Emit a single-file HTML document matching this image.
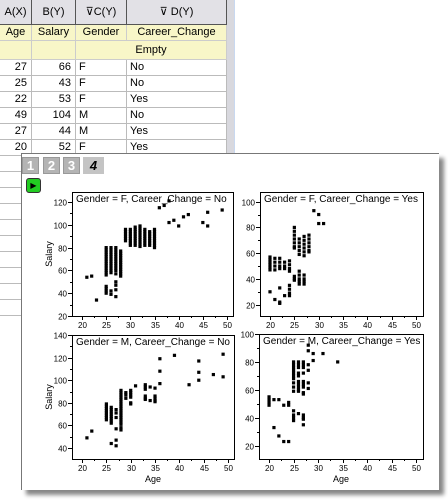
<!DOCTYPE html>
<html><head><meta charset="utf-8">
<style>
body{margin:0;width:448px;height:500px;position:relative;overflow:hidden;background:#fff;font-family:"Liberation Sans",sans-serif}
.c{position:absolute;box-sizing:border-box;font-size:11px;line-height:15px;white-space:nowrap}
.h{background:#e2e1e6;border-right:1px solid #555;border-bottom:1px solid #555;text-align:center;height:25px;line-height:24px}
.y{background:#f8f6c8;border-right:1px solid #ccc;border-bottom:1px solid #ccc;height:16px}
.d{border-right:1px solid #bbb;border-bottom:1px solid #bbb;height:16px;background:#fff}
.r{text-align:right;padding-right:4px}
.l{padding-left:3px}
.tab{position:absolute;top:157px;height:15px;width:15px;background:#b4b4b4;color:#fff;font-weight:bold;font-size:13px;text-align:center;line-height:15px;border:1px solid #999}
</style></head><body>
<div id="sheet"></div>
<div style="position:absolute;left:227px;top:0;width:7px;height:155px;background:#d8d8de;border-right:1px solid #c8d8f0"></div>
<div style="position:absolute;left:21px;top:153px;width:417px;height:336px;background:#fff;border-top:1px solid #777;border-left:1px solid #777;box-shadow:5px 5px 4px #888"></div>
<div class="tab" style="left:22px">1</div>
<div class="tab" style="left:43px">2</div>
<div class="tab" style="left:63px">3</div>
<div class="tab" style="left:83px;width:19px;background:#c4c4c4;color:#000;font-style:italic;border-color:#c4c4c4">4</div>
<div style="position:absolute;left:26px;top:178px;width:13px;height:13px;background:#2c2;border:1px solid #333;border-radius:3px;color:#000;font-size:8px;line-height:13px;text-align:center">▶</div>
<svg id="chart" width="448" height="500" style="position:absolute;left:0;top:0" font-family="Liberation Sans, sans-serif"></svg>
<script>
const colX=[0,32,76,127,227];
const hdr=['A(X)','B(Y)','⊽C(Y)','⊽     D(Y)'];
const lng=['Age','Salary','Gender','Career_Change'];
const rowsAge=['27','25','22','49','27','20'];
const rowsSal=['66','43','53','104','44','52'];
const rowsGen=['F','F','F','M','M','F'];
const rowsCC=['No','No','Yes','No','Yes','Yes'];
const sheet=document.getElementById('sheet');
function cell(cls,x,y,w,t,name){const e=document.createElement('div');e.className='c '+cls;e.style.left=x+'px';e.style.top=y+'px';e.style.width=w+'px';e.textContent=t;


sheet.appendChild(e);return e;}
for(let i=0;i<4;i++){const w=colX[i+1]-colX[i];
cell('h',colX[i],0,w,hdr[i],'column-header');
cell('y',colX[i],25,w,lng[i],'long-name-cell').style.textAlign='center';}
cell('y',0,41,32,'','comment-cell').style.height='19px';
cell('y',32,41,44,'','comment-cell').style.height='19px';
const em=cell('y',76,41,151,'Empty','comment-cell');em.style.height='19px';em.style.textAlign='center';em.style.lineHeight='18px';
for(let r=0;r<16;r++){const y=60+r*16;
const a=r<6?rowsAge[r]:'2';
const ce=cell('d r',0,y,32,a,'age-cell');
if(r>10)ce.style.color='#bbb';
if(r<6){cell('d r',32,y,44,rowsSal[r],'salary-cell');cell('d l',76,y,51,rowsGen[r],'gender-cell');cell('d l',127,y,100,rowsCC[r],'career-cell');}
else{cell('d',32,y,44,'','salary-cell');cell('d',76,y,51,'','gender-cell');cell('d',127,y,100,'','career-cell');}}

const fNoAge=[21,22,23,25,25,25,25,25,25,25,25,25,25,25,25,25,25,25,25,25,26,26,26,26,26,26,26,26,26,26,26,26,26,26,27,27,27,27,27,27,27,27,27,27,27,27,27,27,27,27,28,28,28,28,28,28,28,28,28,28,28,28,29,29,29,29,29,29,30,30,30,30,30,30,30,30,31,31,31,31,31,31,31,31,31,32,32,32,32,32,32,32,32,32,32,33,33,33,33,33,33,33,33,34,34,34,34,34,34,34,35,35,35,35,35,35,35,35,35,36,37,38,38,39,40,41,42,45,46,46,49];
const fNoSal=[54,55,34,80,78,76,74,72,70,68,66,64,62,60,58,56,46,44,42,40,80,78,76,74,72,70,68,66,64,62,60,58,42,39,80,78,76,74,72,70,68,66,64,62,60,57,50,47,43,37,77,75,73,71,69,67,65,63,61,59,57,55,96,94,92,90,88,86,96,94,92,90,88,86,84,82,98,96,94,92,90,88,86,84,82,99,97,95,93,91,89,87,85,83,81,96,94,92,90,88,86,84,82,94,92,90,88,86,84,82,96,94,92,90,88,86,84,82,80,115,117,121,102,104,99,107,109,102,111,99,113];
const fYesAge=[20,20,20,20,20,20,20,21,21,21,21,21,22,22,22,22,22,22,22,23,23,23,23,24,24,24,24,24,24,24,24,25,25,25,25,25,25,25,25,25,25,26,26,26,26,26,26,26,26,26,26,27,27,27,27,27,27,27,27,27,27,28,28,28,28,28,28,29,30,30,31];
const fYesSal=[57,55,53,51,49,47,30,56,53,50,47,24,56,53,50,48,33,21,22,53,50,48,27,54,51,48,46,35,32,29,27,80,77,74,71,68,65,64,42,40,39,71,68,65,62,59,46,43,40,38,36,73,70,67,64,61,58,43,40,38,36,74,71,68,65,62,61,93,90,83,83];
const mNoAge=[21,22,25,25,25,25,25,25,25,25,26,26,26,26,26,26,26,26,26,27,27,27,27,27,27,28,28,28,28,28,28,28,28,28,28,28,28,28,28,28,28,28,28,29,29,29,30,30,30,30,30,30,31,33,33,33,33,33,33,34,34,35,35,35,35,35,36,36,36,39,42,44,44,44,47,49,49];
const mNoSal=[49,55,79,77,75,73,71,69,67,65,76,74,72,70,68,66,64,62,44,74,71,67,57,47,42,91,89,87,85,83,81,79,77,75,73,71,69,67,65,63,61,58,56,89,87,84,91,89,87,85,80,79,95,96,94,92,86,84,83,94,82,93,86,84,82,81,119,108,97,122,96,117,107,100,105,123,103];
const mYesAge=[20,20,20,20,21,21,22,22,23,23,24,24,24,25,25,25,25,25,25,25,25,25,25,25,25,25,25,26,26,26,26,26,26,26,26,26,26,26,27,27,27,27,27,27,27,27,27,27,27,27,27,28,28,28,28,28,28,29,29,31,34];
const mYesSal=[55,53,51,49,53,33,53,27,49,23,51,49,23,80,78,76,74,72,70,68,65,62,59,45,42,40,38,80,78,76,72,70,66,64,62,60,59,43,80,78,76,72,66,64,62,58,57,42,40,39,35,92,88,78,74,65,61,86,81,86,80];
const xTicks=[20,25,30,35,40,45,50];
const yTicks1=[20,40,60,80,100,120];
const yTicks2=[20,40,60,80,100];
const yTicks3=[40,60,80,100,120,140];
const titles=['Gender = F, Career_Change = No','Gender = F, Career_Change = Yes','Gender = M, Career_Change = No','Gender = M, Career_Change = Yes'];

const panels=[
 {f:[72,192,233,316],xr:[17.93,51.24],yr:[20,128.8],yt:yTicks1,ax:fNoAge,ay:fNoSal,ylab:true,xlab:false},
 {f:[260,192,423,316],xr:[17.95,51.4],yr:[11.2,107.5],yt:yTicks2,ax:fYesAge,ay:fYesSal,ylab:false,xlab:false},
 {f:[72,335,234,459],xr:[17.93,51.24],yr:[30.3,140],yt:yTicks3,ax:mNoAge,ay:mNoSal,ylab:true,xlab:true},
 {f:[259,334,423,459],xr:[17.95,51.4],yr:[10.5,100],yt:yTicks2,ax:mYesAge,ay:mYesSal,ylab:false,xlab:true}
];
const NS='http://www.w3.org/2000/svg';
const svg=document.getElementById('chart');
function mk(tag,attrs,parent){const e=document.createElementNS(NS,tag);for(const k in attrs)e.setAttribute(k,attrs[k]);(parent||svg).appendChild(e);return e;}
panels.forEach((p,i)=>{
 const [L,T,R,B]=p.f;
 const g=mk('g',{});
 
 
 const sx=v=>L+(v-p.xr[0])/(p.xr[1]-p.xr[0])*(R-L);
 const sy=v=>B-(v-p.yr[0])/(p.yr[1]-p.yr[0])*(B-T);
 const fr=mk('rect',{x:L+.5,y:T+.5,width:R-L,height:B-T,fill:'none',stroke:'#000','stroke-width':1},g);
 
 
 xTicks.forEach((t,k)=>{const x=Math.round(sx(t))+.5;
  mk('line',{x1:x,x2:x,y1:B,y2:B+4,stroke:'#000'},g);
  if(k<xTicks.length-1){const xm=Math.round(sx(t+2.5))+.5;mk('line',{x1:xm,x2:xm,y1:B,y2:B+2,stroke:'#000'},g);}
  const tx=mk('text',{x:x,y:B+12,'font-size':8,'text-anchor':'middle'},g);tx.textContent=t;
  
  
 });
 p.yt.forEach((t,k)=>{const y=Math.round(sy(t))+.5;
  mk('line',{x1:L-4,x2:L,y1:y,y2:y,stroke:'#000'},g);
  const ym=Math.round(sy(t+10))+.5;if(ym>T)mk('line',{x1:L-2,x2:L,y1:ym,y2:ym,stroke:'#000'},g);
  const ty=mk('text',{x:L-5,y:y+3,'font-size':8,'text-anchor':'end'},g);ty.textContent=t;
  
  
 });
 const tt=mk('text',{x:L+4,y:T+10,'font-size':10},g);tt.textContent=titles[i];
 
 
 if(p.ylab){const yl=mk('text',{x:0,y:0,'font-size':9,'text-anchor':'middle',transform:`translate(52,${(T+B)/2}) rotate(-90)`},g);yl.textContent='Salary';
  
  }
 if(p.xlab){const xl=mk('text',{x:(L+R)/2,y:B+23,'font-size':9,'text-anchor':'middle'},g);xl.textContent='Age';
  
  }
 const n=Math.min(p.ax.length,p.ay.length);
 for(let k=0;k<n;k++){const pt=mk('rect',{x:sx(p.ax[k])-1.6,y:sy(p.ay[k])-1.6,width:3.2,height:3.2,fill:'#000'},g);
  
  }
});
</script>
</body></html>
